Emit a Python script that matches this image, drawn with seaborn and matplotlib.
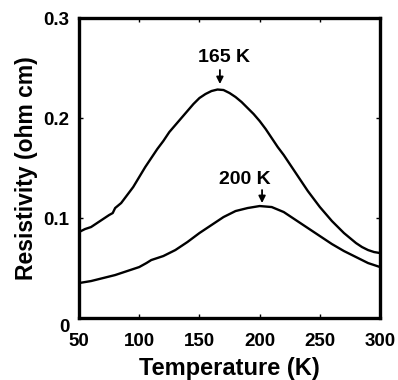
import matplotlib
matplotlib.use('Agg')
import matplotlib.pyplot as plt
import matplotlib.transforms as mtransforms
import pandas as pd
import seaborn as sns

# resistivity vs temperature
temp_a = [50, 55, 60, 65, 70, 75, 78, 80, 85, 90, 95, 100, 105, 110, 115, 120,
          125, 130, 135, 140, 145, 150, 155, 160, 165, 170, 175, 180, 185, 190,
          195, 200, 205, 210, 215, 220, 225, 230, 235, 240, 245, 250, 255, 260,
          265, 270, 275, 280, 285, 290, 295, 300]
rho_a = [0.086, 0.089, 0.091, 0.095, 0.099, 0.103, 0.105, 0.110, 0.115, 0.123,
         0.131, 0.141, 0.151, 0.160, 0.169, 0.177, 0.186, 0.193, 0.200, 0.207,
         0.214, 0.220, 0.224, 0.227, 0.2285, 0.228, 0.225, 0.221, 0.216, 0.210,
         0.204, 0.197, 0.189, 0.180, 0.171, 0.163, 0.154, 0.145, 0.136, 0.127,
         0.119, 0.111, 0.104, 0.097, 0.091, 0.085, 0.080, 0.075, 0.071, 0.068,
         0.066, 0.065]

temp_b = [50, 60, 70, 80, 90, 100, 106, 110, 120, 130, 140, 150, 160, 170, 180,
          190, 200, 210, 220, 230, 240, 250, 260, 270, 280, 290, 300]
rho_b = [0.035, 0.037, 0.040, 0.043, 0.047, 0.051, 0.055, 0.058, 0.062, 0.068,
         0.076, 0.085, 0.093, 0.101, 0.107, 0.110, 0.112, 0.111, 0.106, 0.098,
         0.090, 0.082, 0.074, 0.067, 0.061, 0.055, 0.051]

peak_labels = ["165 K", "200 K"]
peak_T = [167, 202]
label_pos = [(170, 0.252), (188, 0.130)]
arrow_from = [0.248, 0.128]
arrow_to = [0.234, 0.115]

df = pd.concat([
    pd.DataFrame({'T': temp_a, 'rho': rho_a, 'sample': 'a'}),
    pd.DataFrame({'T': temp_b, 'rho': rho_b, 'sample': 'b'}),
])

sns.set_style('ticks')
plt.rcParams['font.family'] = ['Liberation Sans', 'DejaVu Sans']
plt.rcParams['font.weight'] = 'bold'
for k in ['text.color', 'axes.labelcolor', 'xtick.color', 'ytick.color',
          'axes.edgecolor']:
    plt.rcParams[k] = 'black'

fig = plt.figure(figsize=(3.98, 3.80), dpi=100)
ax = fig.add_axes([0.1985, 0.163, 0.7565, 0.7896])

sns.lineplot(data=df, x='T', y='rho', hue='sample', palette=['black', 'black'],
             linewidth=1.7, legend=False, ax=ax, sort=True)

ax.set_xlim(50, 300)
ax.set_ylim(0, 0.3)
ax.set_xticks([50, 100, 150, 200, 250, 300])
ax.set_yticks([0, 0.1, 0.2, 0.3])
ax.set_yticklabels(['0', '0.1', '0.2', '0.3'])
ax.tick_params(direction='in', length=3, width=1, top=True, right=True,
               labelsize=13.5, pad=7)
ax.tick_params(axis='x', pad=11)
for s in ax.spines.values():
    s.set_linewidth(2.4)
    s.set_color('black')

# the "0" label sits lower, next to the corner
lab0 = ax.get_yticklabels()[0]
lab0.set_transform(lab0.get_transform() +
                   mtransforms.ScaledTranslation(0, -5 / 72, fig.dpi_scale_trans))

ax.set_xlabel('Temperature (K)', fontsize=17, fontweight='bold', labelpad=5)
ax.set_ylabel('Resistivity (ohm cm)', fontsize=16.5, fontweight='bold', labelpad=4)

for lab, t, pos, a0, a1 in zip(peak_labels, peak_T, label_pos, arrow_from, arrow_to):
    ax.text(pos[0], pos[1], lab, ha='center', va='bottom', fontsize=14,
            fontweight='bold')
    ax.annotate('', xy=(t, a1), xytext=(t, a0),
                arrowprops=dict(arrowstyle='-|>', color='black', lw=1.3,
                                mutation_scale=10, shrinkA=0, shrinkB=0))

fig.savefig('out.png', dpi=100)
